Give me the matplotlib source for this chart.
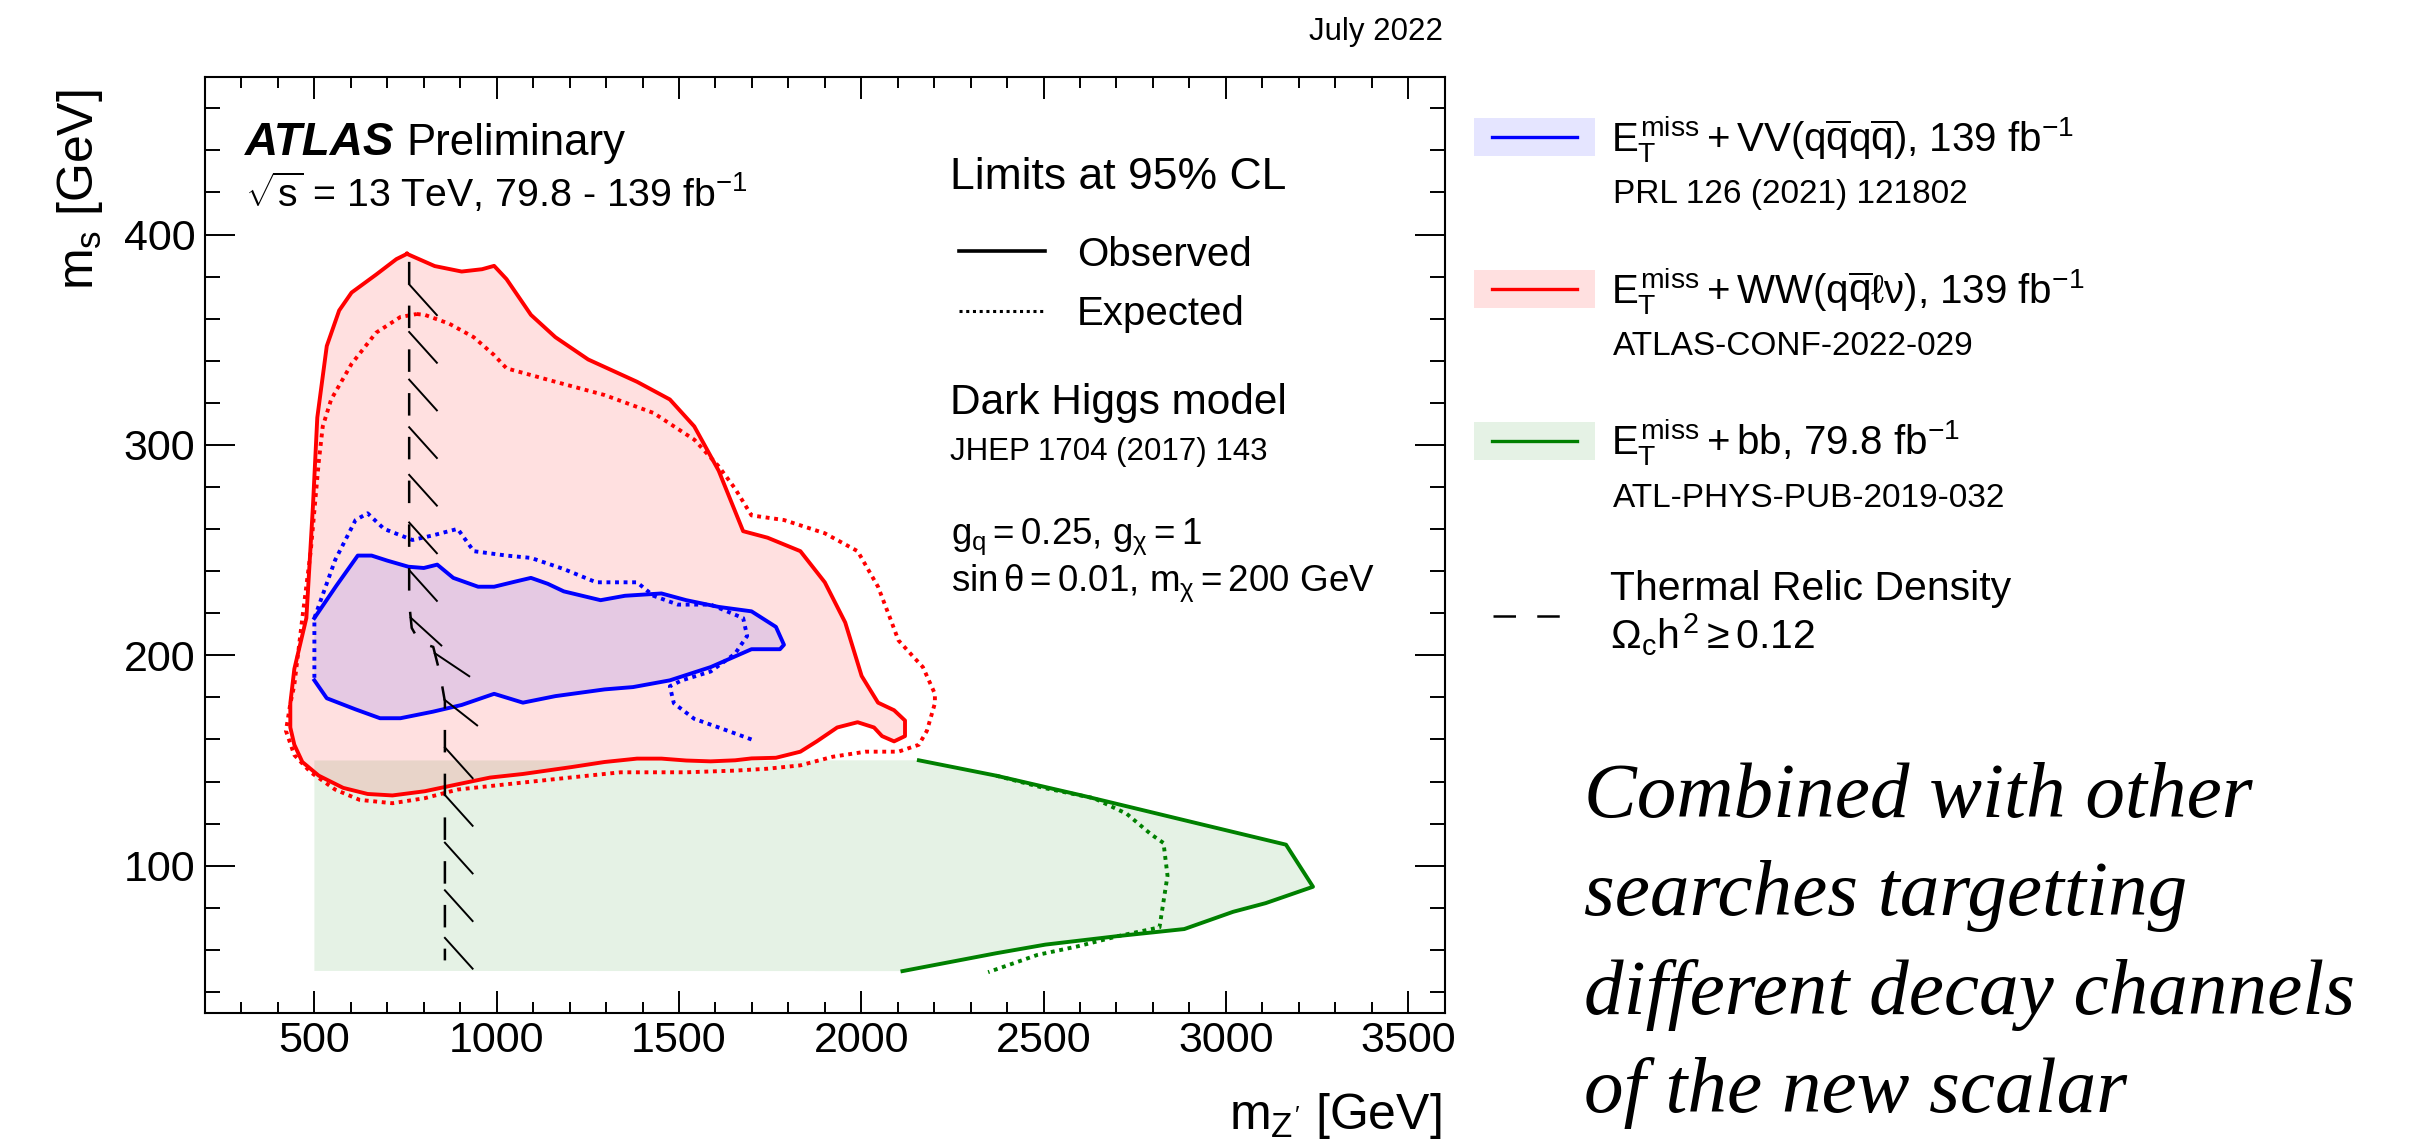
import matplotlib
matplotlib.use("Agg")
import matplotlib.pyplot as plt
from matplotlib.lines import Line2D
from matplotlib.patches import Rectangle
from matplotlib.ticker import MultipleLocator
from matplotlib import patheffects
import numpy as np

plt.rcParams["font.family"] = ["Liberation Sans", "DejaVu Sans"]
plt.rcParams["mathtext.fontset"] = "custom"
plt.rcParams["mathtext.rm"] = "Liberation Sans"
plt.rcParams["mathtext.it"] = "Liberation Sans"
plt.rcParams["mathtext.bf"] = "Liberation Sans:bold"
plt.rcParams["mathtext.sf"] = "Liberation Sans"

W, H = 2418, 1141

# E_T^miss + WW(qqlv), observed / expected contours (m_Z' [GeV], m_s [GeV])
ww_obs_mz = [754, 830, 904, 960, 993, 1027, 1094, 1161, 1251, 1385, 1475, 1542, 1609, 1676,
             1743, 1833, 1900, 1956, 2001, 2046, 2090, 2120, 2120, 2090, 2057, 2035, 1990,
             1934, 1878, 1833, 1766, 1699, 1654, 1587, 1520, 1452, 1385, 1296, 1206, 1072,
             982, 893, 803, 714, 646, 579, 512, 467, 445, 434, 434, 445, 478, 496, 508, 534,
             568, 602, 669, 725, 754]
ww_obs_ms = [390.8, 385, 382.4, 383.5, 385.1, 378.8, 361.8, 351.2, 340.6, 330, 321.6, 308.8,
             287.7, 259, 255.9, 249.5, 234.7, 215.6, 190.2, 177.5, 173.9, 169, 161.6, 159.1,
             161.6, 165.7, 168.2, 165.7, 159.1, 154.2, 151.3, 151, 150.1, 149.6, 150, 150.9,
             150.9, 149.3, 146.9, 143.6, 141.9, 138.7, 135.4, 133.4, 134.1, 137, 142.8, 149.3,
             157.5, 165.7, 177.2, 193.5, 217.7, 270.7, 313, 347, 363.9, 372.4, 380.9, 388.3,
             390.8]
ww_exp_mz = [781, 803, 870, 937, 993, 1027, 1161, 1296, 1430, 1542, 1609, 1654, 1699, 1788,
             1900, 1990, 2046, 2079, 2102, 2135, 2169, 2202, 2202, 2180, 2158, 2102, 2012,
             1922, 1833, 1743, 1654, 1520, 1340, 1206, 1027, 893, 803, 714, 624, 557, 490,
             445, 422, 434, 445, 467, 490, 501, 512, 523, 546, 602, 669, 736, 781]
ww_exp_ms = [362.2, 361.8, 357.6, 351.2, 342.7, 336.4, 330, 323.7, 315.2, 302.5, 289.8, 279.2,
             266.5, 264.3, 258, 249.5, 232.6, 217.7, 207.1, 200.8, 194.4, 181.7, 177.2, 164.1,
             157.5, 154.2, 154.2, 151.8, 147.7, 146.1, 145.2, 144.4, 144.4, 142, 138.7, 136.2,
             132.1, 129.7, 131.3, 136.2, 144.4, 152.6, 164.1, 177, 185.9, 217.7, 249.5, 270.7,
             291.9, 308.8, 321.6, 338.5, 353.3, 360.8, 362.2]

# E_T^miss + VV(qqqq)
vv_obs_mz = [500, 560, 619, 657, 700, 758, 800, 837, 881, 949, 993, 1050, 1094, 1140, 1184,
             1285, 1352, 1452, 1520, 1609, 1699, 1766, 1788, 1777, 1699, 1587, 1475, 1374,
             1296, 1161, 1072, 993, 904, 825, 736, 680, 613, 534, 500]
vv_obs_ms = [217.7, 233, 247.4, 247.4, 245, 242.1, 241.5, 243.1, 236.8, 232.6, 232.6, 235,
             236.8, 234, 230.4, 226.2, 228.3, 229.4, 226.2, 223, 220.9, 213.5, 205, 202.9,
             202.9, 194.4, 188.1, 184.9, 183.8, 180.6, 177.5, 181.7, 176.4, 173.2, 170.1,
             170.1, 174.3, 179.6, 188.1]
vv_exp_mz = [1699, 1609, 1542, 1486, 1475, 1508, 1587, 1654, 1687, 1676, 1587, 1497, 1430,
             1385, 1273, 1184, 1094, 1027, 937, 893, 825, 769, 691, 646, 613, 557, 500, 500]
vv_exp_ms = [160, 165.7, 169.8, 177.2, 185.3, 188.1, 192.3, 200.8, 209.2, 217.7, 224.1, 224.1,
             228.3, 234.7, 234.7, 241, 246.3, 247.4, 249.5, 260.1, 257, 254.8, 260.1, 267.5,
             264.3, 245.3, 217.7, 188.1]

# E_T^miss + bb
bb_obs_mz = [2158, 2370, 2617, 2930, 3165, 3239, 3109, 3020, 2886, 2706, 2505, 2370, 2113]
bb_obs_ms = [150.1, 142.8, 132.9, 119.8, 110, 90, 82.2, 78.1, 69.9, 66.6, 62.5, 58.4, 49.9]
bb_exp_mz = [2370, 2500, 2638, 2728, 2795, 2829, 2840, 2818, 2706, 2594, 2483, 2348]
bb_exp_ms = [142.8, 137, 132.1, 124.7, 114.9, 110.8, 95.3, 70.7, 66.6, 61.7, 57.6, 49.4]
# lower edge of the bb scan grid (m_Z' = 500 GeV, m_s from 50 to 150 GeV)
bb_grid_mz = [500, 500]
bb_grid_ms = [50, 150]

# thermal relic density line, Omega_c h^2 = 0.12
relic_mz = [760, 760, 767, 790, 826, 845, 858, 858]
relic_ms = [387, 225, 213, 206, 204, 191, 178, 55]

x_major = [500, 1000, 1500, 2000, 2500, 3000, 3500]
y_major = [100, 200, 300, 400]

RED = "#ff0000"
BLUE = "#0000ff"
GREEN = "#008000"
DOT = (0, (1, 1.2))


def fx(x):
    return x / W


def fy(y):
    return 1 - y / H


fig = plt.figure(figsize=(W / 100, H / 100), dpi=100)
ax = fig.add_axes([fx(205), fy(1013), (1444.6 - 205) / W, (1013 - 76.7) / H])
ax.set_xlim(200, 3600)
ax.set_ylim(30, 475)

# filled exclusion regions
ax.fill(bb_grid_mz + bb_obs_mz, bb_grid_ms + bb_obs_ms, color=GREEN, alpha=0.1, lw=0)
ax.fill(ww_obs_mz, ww_obs_ms, color=RED, alpha=0.12, lw=0)
ax.fill(vv_obs_mz, vv_obs_ms, color=BLUE, alpha=0.1, lw=0)

# contours
ax.plot(ww_obs_mz, ww_obs_ms, color=RED, lw=2.8)
ax.plot(ww_exp_mz, ww_exp_ms, color=RED, lw=2.8, ls=DOT)
ax.plot(vv_obs_mz, vv_obs_ms, color=BLUE, lw=2.8)
ax.plot(vv_exp_mz, vv_exp_ms, color=BLUE, lw=2.8, ls=DOT)
ax.plot(bb_obs_mz, bb_obs_ms, color=GREEN, lw=2.8)
ax.plot(bb_exp_mz, bb_exp_ms, color=GREEN, lw=2.8, ls=DOT)

# relic line with hatching on the excluded side
ax.plot(relic_mz, relic_ms, color="k", lw=1.8, dashes=(9, 8.5))
ax.plot(relic_mz, relic_ms, color="k", lw=1.4,
        path_effects=[patheffects.TickedStroke(spacing=32.4, angle=42, length=0.92,
                                               linewidth=1.4, foreground="k")])

ax.set_xticks(x_major)
ax.set_yticks(y_major)
ax.xaxis.set_minor_locator(MultipleLocator(100))
ax.yaxis.set_minor_locator(MultipleLocator(20))
ax.tick_params(which="both", direction="in", top=True, right=True, width=1.4,
               labelsize=31)
ax.tick_params(axis="x", which="major", length=15.8, pad=6)
ax.tick_params(axis="x", which="minor", length=7.9)
ax.tick_params(axis="y", which="major", length=21.6, pad=7)
ax.tick_params(axis="y", which="minor", length=10.8)
for sp in ax.spines.values():
    sp.set_linewidth(1.5)

# axis titles
fig.text(fx(1441), fy(1129), r"$m_{Z'}$ [GeV]", fontsize=36, ha="right", va="baseline")
fig.text(fx(93), fy(89), r"$m_{s}$ [GeV]", fontsize=36, rotation=90,
         rotation_mode="anchor", ha="right", va="baseline")

fig.text(fx(1443), fy(40), "July 2022", fontsize=22.5, ha="right", va="baseline")

# labels inside the frame
fig.text(fx(245), fy(155), "ATLAS", fontsize=33, fontweight="bold", fontstyle="italic",
         va="baseline")
fig.text(fx(406), fy(155), "Preliminary", fontsize=31.5, va="baseline")
fig.text(fx(245), fy(207), r"$\sqrt{s}$ = 13 TeV, 79.8 - 139 fb$^{-1}$", fontsize=28.3,
         va="baseline")

fig.text(fx(950), fy(189), "Limits at 95% CL", fontsize=32, va="baseline")
fig.add_artist(Line2D([fx(959), fx(1045)], [fy(251), fy(251)], color="k", lw=2.6,
                      transform=fig.transFigure))
fig.text(fx(1077), fy(266), "Observed", fontsize=29, va="baseline")
fig.add_artist(Line2D([fx(959), fx(1045)], [fy(311), fy(311)], color="k", lw=2.2, ls=DOT,
                      transform=fig.transFigure))
fig.text(fx(1077), fy(325), "Expected", fontsize=29, va="baseline")
fig.text(fx(950), fy(414), "Dark Higgs model", fontsize=30.5, va="baseline")
fig.text(fx(950), fy(460), "JHEP 1704 (2017) 143", fontsize=22.5, va="baseline")
fig.text(fx(951), fy(544), r"$g_{q} = 0.25$, $g_{\chi} = 1$", fontsize=26.5, va="baseline")
fig.text(fx(951), fy(591), r"$\sin\theta = 0.01$, $m_{\chi} = 200$ GeV", fontsize=26.5,
         va="baseline")

# legend on the right
entries = [
    (BLUE, 0.1, 118, r"$E_{T}^{miss}+VV(q\overline{q}q\overline{q})$, 139 fb$^{-1}$",
     "PRL 126 (2021) 121802"),
    (RED, 0.12, 270, r"$E_{T}^{miss}+WW(q\overline{q}\ell\nu)$, 139 fb$^{-1}$",
     "ATLAS-CONF-2022-029"),
    (GREEN, 0.1, 422, r"$E_{T}^{miss}+bb$, 79.8 fb$^{-1}$", "ATL-PHYS-PUB-2019-032"),
]
for col, alp, top, main, ref in entries:
    fig.add_artist(Rectangle((fx(1474), fy(top + 37.5)), 121 / W, 37.5 / H, facecolor=col,
                             alpha=alp, lw=0, transform=fig.transFigure))
    fig.add_artist(Line2D([fx(1492), fx(1577)], [fy(top + 18.5)] * 2, color=col, lw=2.4,
                          transform=fig.transFigure))
    fig.text(fx(1611), fy(top + 33.5), main, fontsize=29, va="baseline")
    fig.text(fx(1613), fy(top + 85), ref, fontsize=24, va="baseline")

fig.add_artist(Line2D([fx(1493), fx(1576)], [fy(615.5)] * 2, color="k", lw=1.8,
                      dashes=(9, 8.5), transform=fig.transFigure))
fig.text(fx(1610), fy(600), "Thermal Relic Density", fontsize=29.5, va="baseline")
fig.text(fx(1610), fy(649), r"$\Omega_{c}h^{2}\geq0.12$", fontsize=29.5, va="baseline")

note = ["Combined with other", "searches targetting", "different decay channels",
        "of the new scalar"]
for i, line in enumerate(note):
    fig.text(fx(1584), fy(817 + 98.4 * i), line, fontsize=57, family="Liberation Serif",
             fontstyle="italic", va="baseline")

fig.savefig("out.png", dpi=100)
